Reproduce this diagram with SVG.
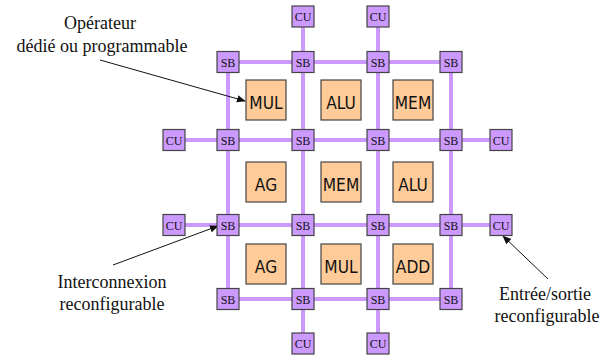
<svg xmlns="http://www.w3.org/2000/svg" width="604" height="356" viewBox="0 0 604 356">
  <style>
    .wire { stroke: #cc99ff; stroke-width: 4; fill: none; }
    .sw rect { fill: #cc99ff; stroke: #444; stroke-width: 1.2; }
    .sw text { font-family: "Liberation Serif", serif; font-size: 12px; fill: #111; text-anchor: middle; }
    .op rect { fill: #ffcc99; stroke: #444; stroke-width: 1.2; }
    .op text { font-family: "DejaVu Sans", sans-serif; font-size: 18px; fill: #111; text-anchor: middle; }
    .note { font-family: "Liberation Serif", serif; font-size: 18px; fill: #111; text-anchor: middle; }
    .pointer { stroke: #111; stroke-width: 1; fill: none; marker-end: url(#head); }
  </style>
  <defs>
    <marker id="head" viewBox="0 0 10 10" refX="9" refY="5" markerWidth="9" markerHeight="9" markerUnits="userSpaceOnUse" orient="auto">
      <path d="M0,1 L10,5 L0,9 z" fill="#111"/>
    </marker>
  </defs>
  <rect width="604" height="356" fill="#fff"/>

  <!-- routing wires -->
  <g id="connectors">
    <line class="wire" x1="228" y1="62" x2="451" y2="62"/>
    <line class="wire" x1="174" y1="140" x2="501" y2="140"/>
    <line class="wire" x1="174" y1="225" x2="501" y2="225"/>
    <line class="wire" x1="228" y1="299" x2="451" y2="299"/>
    <line class="wire" x1="228" y1="62" x2="228" y2="299"/>
    <line class="wire" x1="303" y1="16" x2="303" y2="344"/>
    <line class="wire" x1="378" y1="16" x2="378" y2="344"/>
    <line class="wire" x1="451" y1="62" x2="451" y2="299"/>
    <line class="pointer" x1="100" y1="60" x2="245" y2="101"/>
    <line class="pointer" x1="113" y1="265" x2="218" y2="226"/>
    <line class="pointer" x1="548" y1="279" x2="503" y2="236"/>
  </g>

  <!-- switch boxes -->
  <g id="sb-1-1" class="sw"><rect x="217" y="51.5" width="22" height="21"/><text x="228" y="66.5">SB</text></g>
  <g id="sb-1-2" class="sw"><rect x="292" y="51.5" width="22" height="21"/><text x="303" y="66.5">SB</text></g>
  <g id="sb-1-3" class="sw"><rect x="367" y="51.5" width="22" height="21"/><text x="378" y="66.5">SB</text></g>
  <g id="sb-1-4" class="sw"><rect x="440" y="51.5" width="22" height="21"/><text x="451" y="66.5">SB</text></g>
  <g id="sb-2-1" class="sw"><rect x="217" y="129.5" width="22" height="21"/><text x="228" y="144.5">SB</text></g>
  <g id="sb-2-2" class="sw"><rect x="292" y="129.5" width="22" height="21"/><text x="303" y="144.5">SB</text></g>
  <g id="sb-2-3" class="sw"><rect x="367" y="129.5" width="22" height="21"/><text x="378" y="144.5">SB</text></g>
  <g id="sb-2-4" class="sw"><rect x="440" y="129.5" width="22" height="21"/><text x="451" y="144.5">SB</text></g>
  <g id="sb-3-1" class="sw"><rect x="217" y="214.5" width="22" height="21"/><text x="228" y="229.5">SB</text></g>
  <g id="sb-3-2" class="sw"><rect x="292" y="214.5" width="22" height="21"/><text x="303" y="229.5">SB</text></g>
  <g id="sb-3-3" class="sw"><rect x="367" y="214.5" width="22" height="21"/><text x="378" y="229.5">SB</text></g>
  <g id="sb-3-4" class="sw"><rect x="440" y="214.5" width="22" height="21"/><text x="451" y="229.5">SB</text></g>
  <g id="sb-4-1" class="sw"><rect x="217" y="288.5" width="22" height="21"/><text x="228" y="303.5">SB</text></g>
  <g id="sb-4-2" class="sw"><rect x="292" y="288.5" width="22" height="21"/><text x="303" y="303.5">SB</text></g>
  <g id="sb-4-3" class="sw"><rect x="367" y="288.5" width="22" height="21"/><text x="378" y="303.5">SB</text></g>
  <g id="sb-4-4" class="sw"><rect x="440" y="288.5" width="22" height="21"/><text x="451" y="303.5">SB</text></g>

  <!-- I/O units -->
  <g id="cu-top-1" class="sw"><rect x="292" y="6" width="22" height="21"/><text x="303" y="21">CU</text></g>
  <g id="cu-top-2" class="sw"><rect x="367" y="6" width="22" height="21"/><text x="378" y="21">CU</text></g>
  <g id="cu-left-1" class="sw"><rect x="163" y="129.5" width="22" height="21"/><text x="174" y="144.5">CU</text></g>
  <g id="cu-left-2" class="sw"><rect x="163" y="214.5" width="22" height="21"/><text x="174" y="229.5">CU</text></g>
  <g id="cu-right-1" class="sw"><rect x="490" y="129.5" width="22" height="21"/><text x="501" y="144.5">CU</text></g>
  <g id="cu-right-2" class="sw"><rect x="490" y="214.5" width="22" height="21"/><text x="501" y="229.5">CU</text></g>
  <g id="cu-bottom-1" class="sw"><rect x="292" y="333" width="22" height="21"/><text x="303" y="348">CU</text></g>
  <g id="cu-bottom-2" class="sw"><rect x="367" y="333" width="22" height="21"/><text x="378" y="348">CU</text></g>

  <!-- operators (labels slightly condensed) -->
  <g id="op-mul-1" class="op"><rect x="246" y="80" width="40" height="40"/><text transform="translate(266 108.5) scale(0.86 1)">MUL</text></g>
  <g id="op-alu-1" class="op"><rect x="321" y="80" width="40" height="40"/><text transform="translate(341 108.5) scale(0.86 1)">ALU</text></g>
  <g id="op-mem-1" class="op"><rect x="393" y="80" width="40" height="40"/><text transform="translate(413 108.5) scale(0.86 1)">MEM</text></g>
  <g id="op-ag-1" class="op"><rect x="246" y="162" width="40" height="40"/><text transform="translate(266 190.5) scale(0.86 1)">AG</text></g>
  <g id="op-mem-2" class="op"><rect x="321" y="162" width="40" height="40"/><text transform="translate(341 190.5) scale(0.86 1)">MEM</text></g>
  <g id="op-alu-2" class="op"><rect x="393" y="162" width="40" height="40"/><text transform="translate(413 190.5) scale(0.86 1)">ALU</text></g>
  <g id="op-ag-2" class="op"><rect x="246" y="244" width="40" height="40"/><text transform="translate(266 272.5) scale(0.86 1)">AG</text></g>
  <g id="op-mul-2" class="op"><rect x="321" y="244" width="40" height="40"/><text transform="translate(341 272.5) scale(0.86 1)">MUL</text></g>
  <g id="op-add" class="op"><rect x="393" y="244" width="40" height="40"/><text transform="translate(413 272.5) scale(0.86 1)">ADD</text></g>

  <!-- annotations -->
  <g id="label-operator">
    <text class="note" x="100" y="29">Opérateur</text>
    <text class="note" x="102" y="52">dédié ou programmable</text>
  </g>
  <g id="label-interconnect">
    <text class="note" x="112" y="288">Interconnexion</text>
    <text class="note" x="112" y="310">reconfigurable</text>
  </g>
  <g id="label-io">
    <text class="note" x="545" y="300">Entrée/sortie</text>
    <text class="note" x="547" y="322">reconfigurable</text>
  </g>
</svg>
